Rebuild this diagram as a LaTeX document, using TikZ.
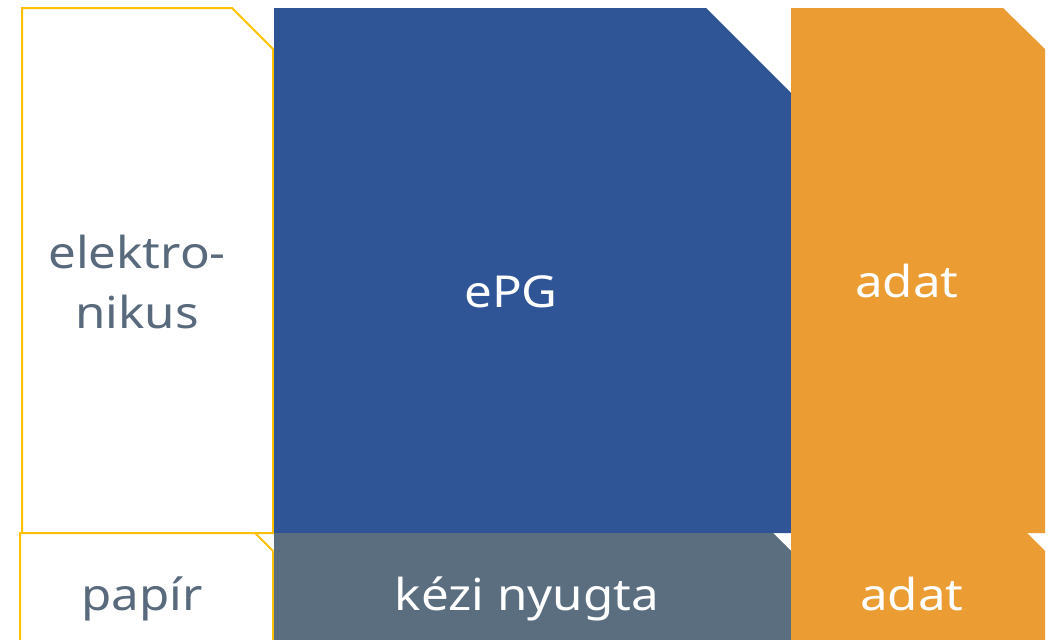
\documentclass[tikz,border=0pt]{standalone}
\usepackage{fontspec}
\setmainfont{Noto Sans}[FakeStretch=1.12]
\definecolor{epgblue}{HTML}{2F5597}
\definecolor{adatorange}{HTML}{EB9C33}
\definecolor{slategray}{HTML}{5A6E80}
\definecolor{frameyellow}{HTML}{FFC000}
\definecolor{labelgray}{HTML}{586A7C}
\tikzset{
  lbl/.style={font=\fontsize{44}{60}\selectfont, inner sep=0pt, anchor=base, align=center},
  frame/.style={draw=frameyellow, line width=2pt, fill=white, line join=miter},
}
\begin{document}
\begin{tikzpicture}[x=1pt,y=-1pt]
\useasboundingbox (0,0) rectangle (1050,640);
\clip (0,0) rectangle (1050,640);
% top row
\draw[frame] (22,8) -- (232,8) -- (273,49) -- (273,533) -- (22,533) -- cycle;
\fill[epgblue] (274,8) -- (706,8) -- (791,93) -- (791,533) -- (274,533) -- cycle;
\fill[adatorange] (791,8) -- (1003,8) -- (1045,49) -- (1045,533) -- (791,533) -- cycle;
% bottom row
\draw[frame] (20,650) -- (20,533) -- (255,533) -- (273,551) -- (273,650);
\fill[slategray] (274,533) -- (773,533) -- (791,551) -- (791,650) -- (274,650) -- cycle;
\fill[adatorange] (791,533) -- (1027,533) -- (1045,551) -- (1045,650) -- (791,650) -- cycle;
% labels
\node[lbl, text=labelgray] (elek) at (137,268) {elektro-};
\node[lbl, text=labelgray] (nikus) at (137,328) {nikus};
\node[lbl, text=white] (epg) at (511,307) {ePG};
\node[lbl, text=white] (adat1) at (907,297) {adat};
\node[lbl, text=labelgray] (papir) at (142,610) {papír};
\node[lbl, text=white] (kezi) at (527,610) {kézi nyugta};
\node[lbl, text=white] (adat2) at (912,610) {adat};
\end{tikzpicture}
\end{document}
